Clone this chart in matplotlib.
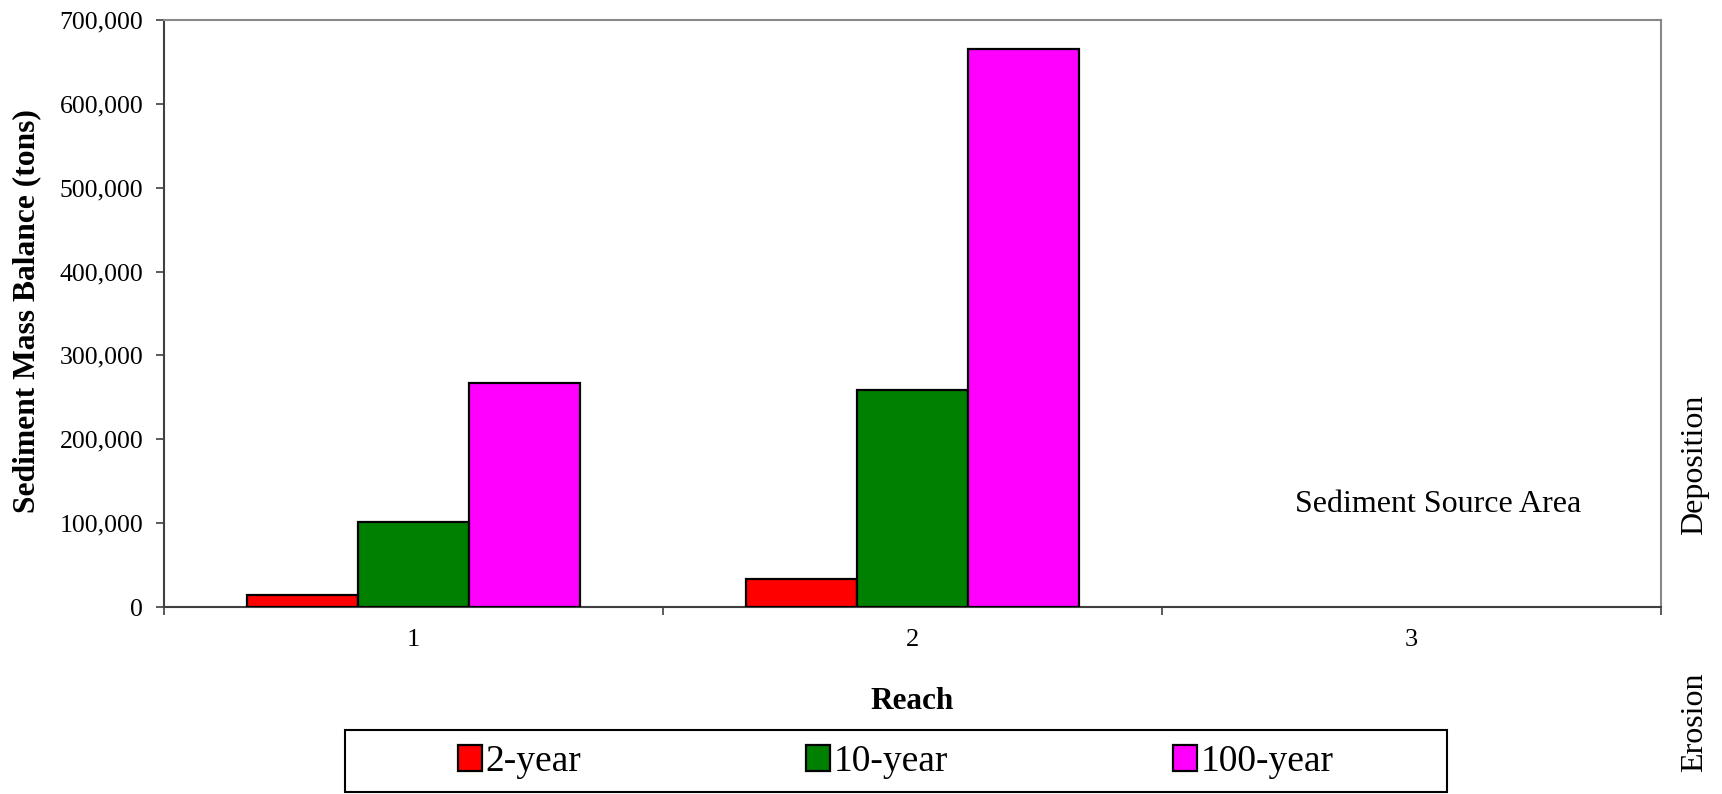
import numpy as np
import matplotlib
matplotlib.use("Agg")
import matplotlib.pyplot as plt
from matplotlib.ticker import FuncFormatter, FixedLocator
from matplotlib.patches import Rectangle

reaches = ["1", "2", "3"]
series_names = ["2-year", "10-year", "100-year"]
vals_2yr = [14000, 33500, np.nan]
vals_10yr = [101000, 259000, np.nan]
vals_100yr = [267500, 665000, np.nan]
colors = ["#FF0000", "#008000", "#FF00FF"]
yticks = [0, 100000, 200000, 300000, 400000, 500000, 600000, 700000]

plt.rcParams['font.family'] = ['Liberation Serif', 'DejaVu Serif']

W, H = 1722, 794
fig = plt.figure(figsize=(W / 100, H / 100), dpi=100)
L, R, T, B = 164, 1661, 20, 607
ax = fig.add_axes([L / W, 1 - B / H, (R - L) / W, (B - T) / H])

x = np.arange(1, len(reaches) + 1)
bw = 1 / 4.5
data = [vals_2yr, vals_10yr, vals_100yr]
for i, (vals, c, name) in enumerate(zip(data, colors, series_names)):
    ax.bar(x + (i - 1) * bw, vals, width=bw, color=c, edgecolor="black",
           linewidth=1.6, label=name, zorder=3)

ax.set_xlim(0.5, 3.5)
ax.set_ylim(0, 700000)
ax.set_yticks(yticks)
ax.yaxis.set_major_formatter(FuncFormatter(lambda v, p: f"{v:,.0f}"))
ax.set_xticks(x)
ax.set_xticklabels(reaches)
ax.xaxis.set_minor_locator(FixedLocator([0.5, 1.5, 2.5, 3.5]))
ax.tick_params(axis="x", which="major", length=0, pad=16, labelsize=19)
ax.tick_params(axis="x", which="minor", length=6, width=1.2, color="#404040", direction="out")
ax.tick_params(axis="y", which="major", length=6, width=1.2, color="#404040",
               direction="out", pad=9, labelsize=18.5)

for s in ["top", "right"]:
    ax.spines[s].set_color("#888888")
    ax.spines[s].set_linewidth(1.5)
for s in ["left", "bottom"]:
    ax.spines[s].set_color("#404040")
    ax.spines[s].set_linewidth(1.5)

ax.text(0.5 + (1438 - L) / 499, 113300, "Sediment Source Area", fontsize=23,
        ha="center", va="baseline")

fig.text(27 / W, 1 - 311 / H, "Sediment Mass Balance (tons)", rotation=90,
         fontsize=22.7, fontweight="bold", ha="center", va="center")
fig.text(912 / W, 1 - 709 / H, "Reach", fontsize=22.5, fontweight="bold",
         ha="center", va="baseline")
fig.text(1695 / W, 1 - 465 / H, "Deposition", rotation=90, fontsize=23,
         ha="center", va="center")
fig.text(1695 / W, 1 - 722 / H, "Erosion", rotation=90, fontsize=23,
         ha="center", va="center")

# legend frame
fig.patches.append(Rectangle((345 / W, 1 - 792 / H), (1447 - 345) / W, (792 - 730) / H,
                             transform=fig.transFigure, facecolor="white",
                             edgecolor="black", linewidth=1.5))
handles, labels = ax.get_legend_handles_labels()
leg = fig.legend(handles, labels, loc="center", bbox_to_anchor=(896 / W, 1 - 762 / H),
                 ncol=3, frameon=False, fontsize=27, handlelength=0.64,
                 handleheight=0.7, handletextpad=0.1, columnspacing=6.0,
                 borderaxespad=0, borderpad=0)

fig.savefig("out.png", dpi=100)
